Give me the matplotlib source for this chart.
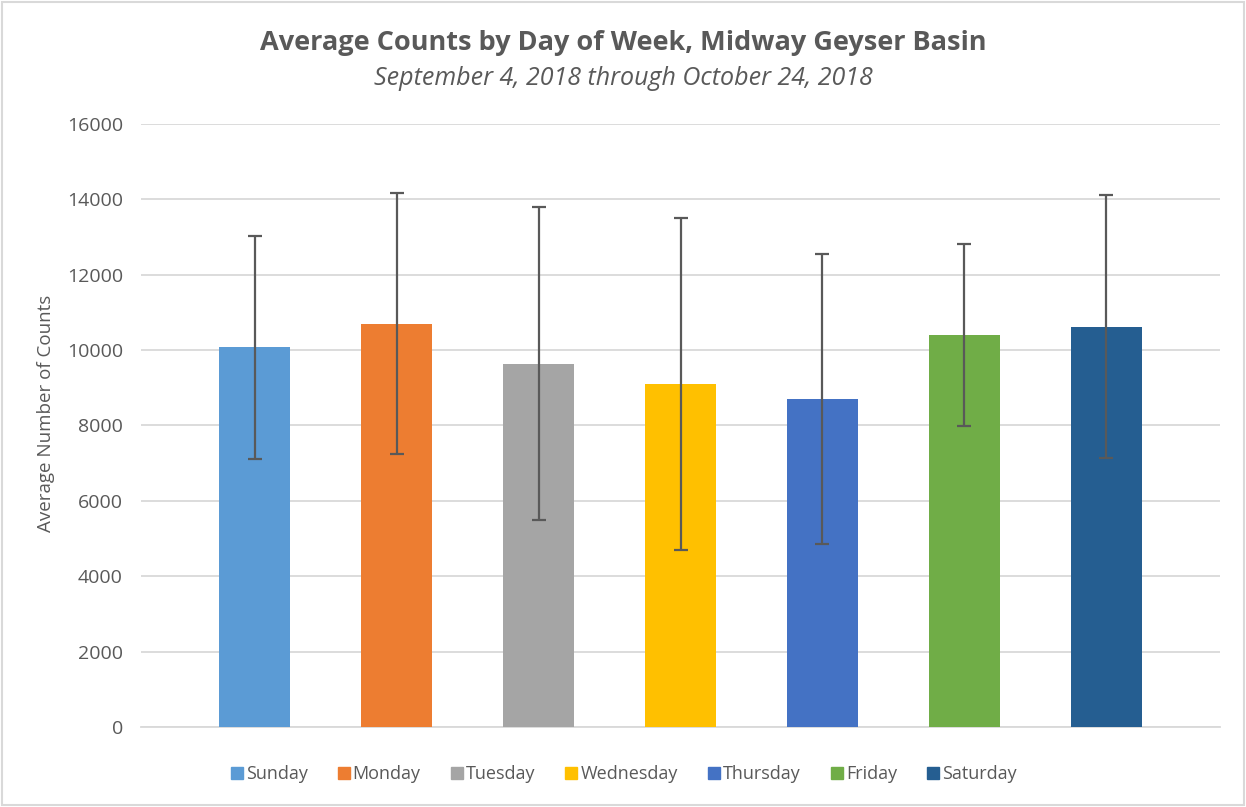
import matplotlib
matplotlib.use('Agg')
from matplotlib import pyplot as plt
from matplotlib.patches import Rectangle
from matplotlib.lines import Line2D
import numpy as np

# data
days = ['Sunday', 'Monday', 'Tuesday', 'Wednesday', 'Thursday', 'Friday', 'Saturday']
means = [10070, 10700, 9640, 9100, 8700, 10400, 10620]
errs = [2950, 3470, 4150, 4400, 3840, 2410, 3480]
colors = ['#5B9BD5', '#ED7D31', '#A5A5A5', '#FFC000', '#4472C4', '#70AD47', '#255E91']
yticks = [0, 2000, 4000, 6000, 8000, 10000, 12000, 14000, 16000]

plt.rcParams['font.family'] = ['Open Sans', 'DejaVu Sans']
txt = '#595959'

fig = plt.figure(figsize=(12.46, 8.07), dpi=100)
ax = fig.add_axes([0.1132, 0.0991, 0.8659, 0.7476])

x = np.arange(len(days))
ax.bar(x, means, width=0.5, color=colors, zorder=2)
ax.errorbar(x, means, yerr=errs, fmt='none', ecolor='#595959',
            elinewidth=1.6, capsize=5, capthick=1.6, zorder=3)

ax.set_xlim(-0.8, 6.8)
ax.set_ylim(0, 16000)
ax.set_yticks(yticks)
ax.set_yticklabels([str(t) for t in yticks], color=txt, fontsize=14)
ax.set_xticks([])
ax.tick_params(axis='y', length=0, pad=13)
ax.grid(axis='y', color='#D9D9D9', linewidth=1.3, zorder=0)
for s in ['top', 'right', 'left']:
    ax.spines[s].set_visible(False)
ax.spines['bottom'].set_color('#D9D9D9')
ax.spines['bottom'].set_linewidth(1.3)
ax.spines['bottom'].set_zorder(1)

fig.text(0.037, 0.488, 'Average Number of Counts', rotation=90, ha='center',
         va='center', color=txt, fontsize=13.5)

fig.text(0.5, 0.947, 'Average Counts by Day of Week, Midway Geyser Basin',
         ha='center', va='center', color=txt, fontsize=19.5, fontweight='bold')
fig.text(0.5, 0.903, 'September 4, 2018 through October 24, 2018',
         ha='center', va='center', color=txt, fontsize=18, style='italic')

handles = [Line2D([], [], marker='s', linestyle='none', markersize=9,
                  markerfacecolor=c, markeredgecolor=c) for c in colors]
fig.legend(handles, days, loc='center', bbox_to_anchor=(0.5, 0.041), ncol=7,
           frameon=False, fontsize=13, labelcolor=txt, handletextpad=0.1,
           columnspacing=1.6, handlelength=0.8)

fig.add_artist(Rectangle((0.002, 0.003), 0.996, 0.994, transform=fig.transFigure,
                         fill=False, edgecolor='#D9D9D9', linewidth=1.5))

plt.savefig('out.png', dpi=100)
